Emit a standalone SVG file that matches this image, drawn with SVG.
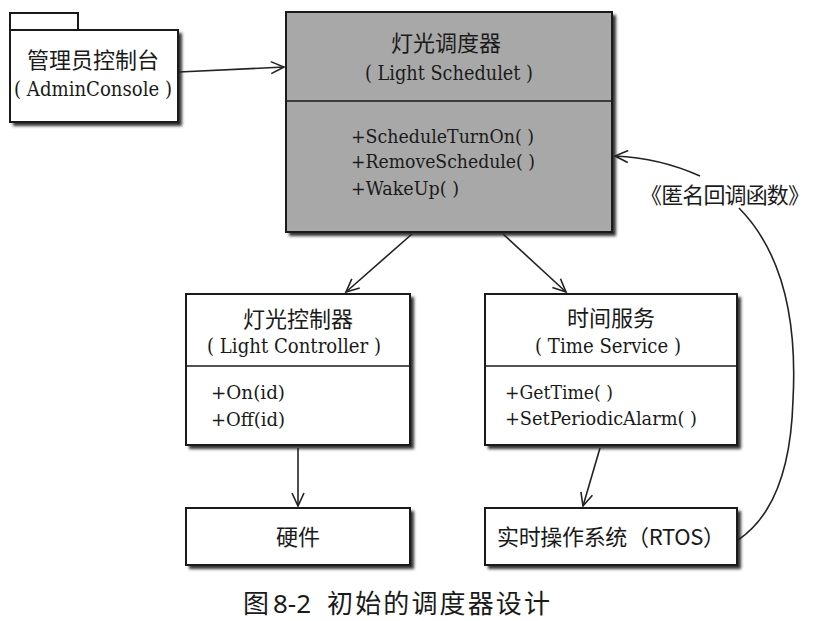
<svg xmlns="http://www.w3.org/2000/svg" width="816" height="621" viewBox="0 0 816 621">
<defs>
<filter id="sh" x="-5%" y="-5%" width="115%" height="115%"><feGaussianBlur stdDeviation="1.5"/></filter>
<marker id="ah" markerWidth="16" markerHeight="14" refX="14" refY="7" orient="auto" markerUnits="userSpaceOnUse"><path d="M1,1 L14,7 L1,13" fill="none" stroke="#222" stroke-width="1.6"/></marker>
</defs>
<style>
.box{fill:#fff;stroke:#1a1a1a;stroke-width:2}
.gbox{fill:#a8a8a8;stroke:#1a1a1a;stroke-width:2}
.shd{fill:#333;filter:url(#sh)}
.div{stroke:#1a1a1a;stroke-width:1.6}
.cn{font-family:'Noto Sans CJK SC','Noto Sans CJK JP',sans-serif;font-size:22px;fill:#1a1a1a;text-anchor:middle}
.lt{font-family:'DejaVu Serif','Liberation Serif',serif;font-size:20px;fill:#1a1a1a;text-anchor:middle}
.m{font-family:'DejaVu Serif','Liberation Serif',serif;font-size:19px;fill:#1a1a1a}
.ln{fill:none;stroke:#222;stroke-width:1.6;marker-end:url(#ah)}
.cap{font-family:'Noto Sans CJK SC','Noto Sans CJK JP',sans-serif;font-size:26px;fill:#1a1a1a}
.capn{font-family:'Noto Sans','Liberation Sans',sans-serif;font-size:25px;fill:#1a1a1a}
</style>
<rect width="816" height="621" fill="#fff"/>
<g id="admin">
<rect class="shd" x="13" y="33" width="169" height="93"/>
<rect class="box" x="10" y="13" width="68" height="18"/>
<rect class="box" x="10" y="30" width="168" height="92"/>
<text class="cn" x="93" y="68">管理员控制台</text>
<text class="lt" x="93" y="96" textLength="158" lengthAdjust="spacingAndGlyphs">( AdminConsole )</text>
</g>
<g id="scheduler">
<rect class="shd" x="289" y="15" width="327" height="221"/>
<rect class="gbox" x="286" y="12" width="326" height="220"/>
<line class="div" x1="286" y1="101" x2="612" y2="101"/>
<text class="cn" x="446" y="51">灯光调度器</text>
<text class="lt" x="449" y="80" textLength="168" lengthAdjust="spacingAndGlyphs">( Light Schedulet )</text>
<text class="m" x="351" y="143" textLength="183" lengthAdjust="spacingAndGlyphs">+ScheduleTurnOn( )</text>
<text class="m" x="351" y="168" textLength="184" lengthAdjust="spacingAndGlyphs">+RemoveSchedule( )</text>
<text class="m" x="351" y="195" textLength="108" lengthAdjust="spacingAndGlyphs">+WakeUp( )</text>
</g>
<g id="lightctrl">
<rect class="shd" x="189" y="297" width="225" height="152"/>
<rect class="box" x="186" y="294" width="224" height="151"/>
<line class="div" x1="186" y1="366" x2="410" y2="366"/>
<text class="cn" x="298" y="327">灯光控制器</text>
<text class="lt" x="294" y="353" textLength="174" lengthAdjust="spacingAndGlyphs">( Light Controller )</text>
<text class="m" x="211" y="399" textLength="74" lengthAdjust="spacingAndGlyphs">+On(id)</text>
<text class="m" x="211" y="426" textLength="74" lengthAdjust="spacingAndGlyphs">+Off(id)</text>
</g>
<g id="timesvc">
<rect class="shd" x="488" y="297" width="253" height="152"/>
<rect class="box" x="485" y="294" width="252" height="151"/>
<line class="div" x1="485" y1="366" x2="737" y2="366"/>
<text class="cn" x="611" y="326">时间服务</text>
<text class="lt" x="608" y="353" textLength="146" lengthAdjust="spacingAndGlyphs">( Time Service )</text>
<text class="m" x="505" y="399" textLength="108" lengthAdjust="spacingAndGlyphs">+GetTime( )</text>
<text class="m" x="505" y="425" textLength="192" lengthAdjust="spacingAndGlyphs">+SetPeriodicAlarm( )</text>
</g>
<g id="hardware">
<rect class="shd" x="189" y="511" width="225" height="58"/>
<rect class="box" x="186" y="508" width="224" height="57"/>
<text class="cn" x="298" y="545">硬件</text>
</g>
<g id="rtos">
<rect class="shd" x="488" y="511" width="253" height="58"/>
<rect class="box" x="485" y="508" width="252" height="57"/>
<text class="cn" x="611" y="545" textLength="228">实时操作系统（RTOS）</text>
</g>
<g id="connectors">
<path class="ln" d="M179,72 L284,67"/>
<path class="ln" d="M412,234 L346,292"/>
<path class="ln" d="M503,234 L566,292"/>
<path class="ln" d="M298,448 L298,506"/>
<path class="ln" d="M600,448 L583,506"/>
<path class="ln" d="M700,176 Q660,158 615,156"/>
<path fill="none" stroke="#222" stroke-width="1.6" d="M739,208 Q800,270 793,400 Q790,505 738,540"/>
<text class="cn" x="725" y="203" textLength="170">《匿名回调函数》</text>
</g>
<g id="caption">
<text class="cap" x="243" y="613">图</text>
<text class="capn" x="273" y="613" textLength="38" lengthAdjust="spacingAndGlyphs">8-2</text>
<text class="cap" x="327" y="613" textLength="223">初始的调度器设计</text>
</g>
</svg>
